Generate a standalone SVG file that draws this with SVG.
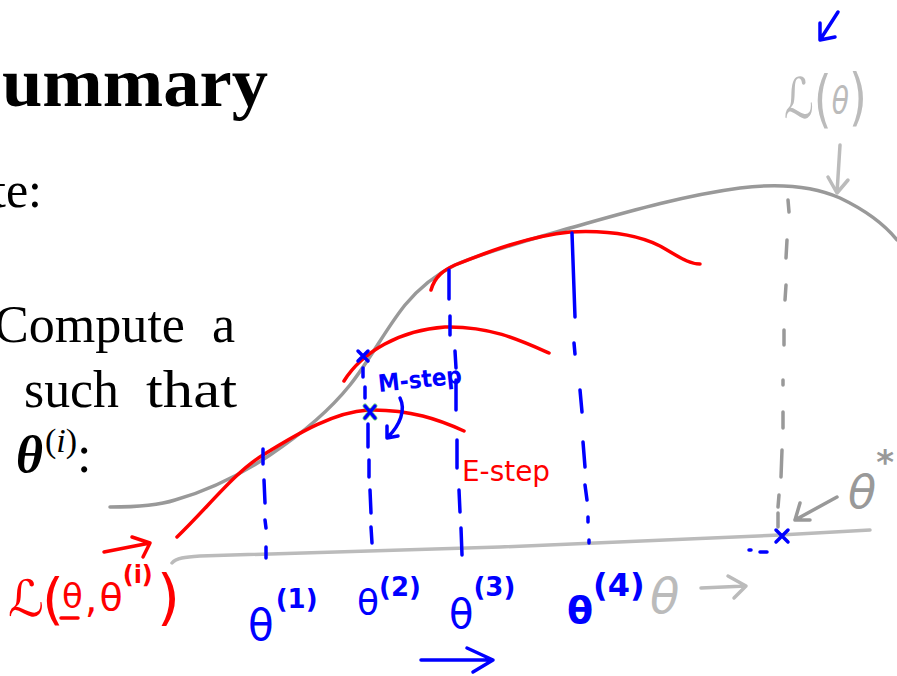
<svg xmlns="http://www.w3.org/2000/svg" width="897" height="676" viewBox="0 0 897 676">
<style>
.tex{font-family:"Liberation Serif","DejaVu Serif",serif;fill:#000}
.hand{font-family:"DejaVu Sans","Noto Sans",sans-serif}
.gray{fill:none;stroke:#999;stroke-width:3.5;stroke-linecap:round;stroke-linejoin:round}
.lgray{fill:none;stroke:#bbb;stroke-width:3.5;stroke-linecap:round;stroke-linejoin:round}
.red{fill:none;stroke:#f00;stroke-width:3.5;stroke-linecap:round;stroke-linejoin:round}
.blue{fill:none;stroke:#00f;stroke-width:3.5;stroke-linecap:round;stroke-linejoin:round}
.bdash{fill:none;stroke:#00f;stroke-width:3.5;stroke-linecap:round}
.gdash{fill:none;stroke:#999;stroke-width:3.5;stroke-linecap:round}
</style>
<rect width="897" height="676" fill="#fff"/>

<g id="slide-text">
<text class="tex" x="2" y="106" font-size="70" font-weight="bold" textLength="266" lengthAdjust="spacingAndGlyphs">ummary</text>
<text class="tex" x="-8" y="207" font-size="50">te:</text>
<text class="tex" x="-6" y="342" font-size="52" textLength="191" lengthAdjust="spacingAndGlyphs">Compute</text>
<text class="tex" x="212" y="342" font-size="52">a</text>
<text class="tex" x="24" y="407" font-size="52" textLength="95" lengthAdjust="spacingAndGlyphs">such</text>
<text class="tex" x="146" y="407" font-size="52" textLength="91" lengthAdjust="spacingAndGlyphs">that</text>
<text class="tex" x="16" y="472" font-size="52"><tspan font-weight="bold" font-style="italic">θ</tspan><tspan font-size="34" dx="2" dy="-20">(<tspan font-style="italic">i</tspan>)</tspan><tspan dy="20">:</tspan></text>
</g>

<g id="axis">
<path class="lgray" d="M172,563 C176,558 185,557 200,556 L500,547 L780,535 L870,530"/>
</g>

<g id="likelihood-curve">
<path class="gray" d="M110,507 C140,507 160,505 175,500 C210,490 240,475 270,455 C300,435 330,410 350,385 C370,360 385,330 405,305 C420,287 435,275 455,265 C490,250 530,240 570,228 C620,214 680,196 740,188 C780,183 815,187 840,198 C865,210 885,225 897,240"/>
</g>

<g id="lower-bounds">
<path class="red" d="M177,537 C210,505 235,472 263,455 C300,432 335,412 368,410 C410,409 440,420 464,431"/>
<path class="red" d="M344,381 C362,352 400,330 445,327 C490,326 520,340 549,353"/>
<path class="red" d="M431,290 C435,276 444,270 455,265 C490,251 530,236 570,232 C610,230 640,236 660,246 C678,256 688,264 700,264"/>
</g>

<g id="connectors">
<path class="bdash" d="M263,449 L263,464 M264,480 L265,503 M265,520 L266,528 M266,547 L266,558"/>
<path class="bdash" d="M363,368 L363,377 M365,387 L365,398 M368,424 L368,447 M369,460 L369,477 M370,490 L371,513 M371,527 L372,543"/>
<path class="bdash" d="M449,270 L449,299 M450,316 L450,335 M455,351 L456,368 M456,380 L456,410 M457,440 L457,468 M459,490 L460,512 M461,528 L462,555"/>
<path class="bdash" d="M572,233 L575,317 M574,343 L575,354 M580,390 L582,412 M583,442 L585,467 M585,485 L587,500 M588,517 L588,522 M589,540 L589,543"/>
<path class="gdash" d="M788,200 L789,212 M787,240 L786,258 M786,285 L785,300 M784,330 L784,345 M783,380 L783,385 M783,412 L783,428 M782,450 L781,477 M779,495 L778,507 M778,513 L778,527"/>
<path class="blue" d="M358,351 L368,361 M368,351 L358,361"/>
<path fill="none" stroke="#3c3" stroke-width="5" stroke-linecap="round" d="M365,406 L375,418 M375,406 L365,418" opacity="0.6"/>
<path class="blue" d="M365,406 L375,418 M375,406 L365,418"/>
<path class="blue" d="M776,530 L788,542 M788,530 L776,542"/>
<path class="bdash" d="M749,550 L751,550 M760,552 L767,552"/>
<path class="blue" d="M400,398 C406,410 400,425 388,437 M387,426 L387,438 L398,436"/>
<path class="red" d="M104,552 L150,543 M132,537 L150,543 L143,557"/>
<path class="blue" d="M421,660 L493,660 M467,648 L493,660 L473,672"/>
<path class="lgray" d="M701,588 L746,586 M728,576 L746,586 L734,598"/>
<path class="lgray" d="M840,145 L837,193 M828,177 L837,193 L848,180"/>
<path class="blue" d="M838,12 L820,40 M820,23 L820,40 L835,37"/>
<path class="gdash" d="M837,497 L795,520 M800,503 L795,520 L810,520" stroke-linejoin="round"/>
</g>

<g id="labels">
<text class="hand" x="379" y="392" font-size="24" font-weight="bold" fill="#00f" textLength="84" lengthAdjust="spacingAndGlyphs" transform="rotate(-6 379 392)">M-step</text>
<text class="hand" x="462" y="481" font-size="28" fill="#f00" textLength="88" lengthAdjust="spacingAndGlyphs">E-step</text>

<g id="label-t1"><text class="hand" x="248" y="640" font-size="42" fill="#00f">θ<tspan font-size="26" font-weight="bold" dx="2" dy="-32">(1)</tspan></text></g>
<g id="label-t2"><text class="hand" x="357" y="615" font-size="36" fill="#00f">θ<tspan font-size="26" font-weight="bold" dx="0" dy="-19">(2)</tspan></text></g>
<g id="label-t3"><text class="hand" x="449" y="628" font-size="40" fill="#00f">θ<tspan font-size="26" font-weight="bold" dx="0" dy="-32">(3)</tspan></text></g>
<g id="label-t4"><text class="hand" x="567" y="623" font-size="38" fill="#00f" font-weight="bold">θ<tspan font-size="32" dx="0" dy="-27">(4)</tspan></text></g>
<text class="hand" x="650" y="613" font-size="48" font-style="italic" fill="#bbb">θ</text>

<g id="label-lower">
<text class="hand" x="8" y="616" font-size="50" fill="#f00">ℒ<tspan font-size="56" dx="-2" dy="2">(</tspan><tspan font-size="34" dx="-2" dy="-10">θ</tspan><tspan font-size="40" dx="2" dy="4">,</tspan><tspan font-size="38" dx="2" dy="-2">θ</tspan><tspan font-size="24" font-weight="bold" dy="-27">(i)</tspan><tspan font-size="60" dx="4" dy="35">)</tspan></text>
<path class="red" d="M61,618 L78,618"/>
</g>

<g id="label-L" transform="translate(784 118) scale(0.74 1)">
<text class="hand" x="0" y="0" font-size="56" fill="#bbb">ℒ<tspan font-size="62" dy="2">(</tspan><tspan font-size="38" font-style="italic" dy="-7">θ</tspan><tspan font-size="62" dy="5">)</tspan></text>
</g>

<g id="label-star">
<text class="hand" x="848" y="508" font-size="46" font-style="italic" fill="#999">θ<tspan font-size="34" font-weight="bold" font-style="normal" dx="0" dy="-34">*</tspan></text>
</g>
</g>
</svg>
